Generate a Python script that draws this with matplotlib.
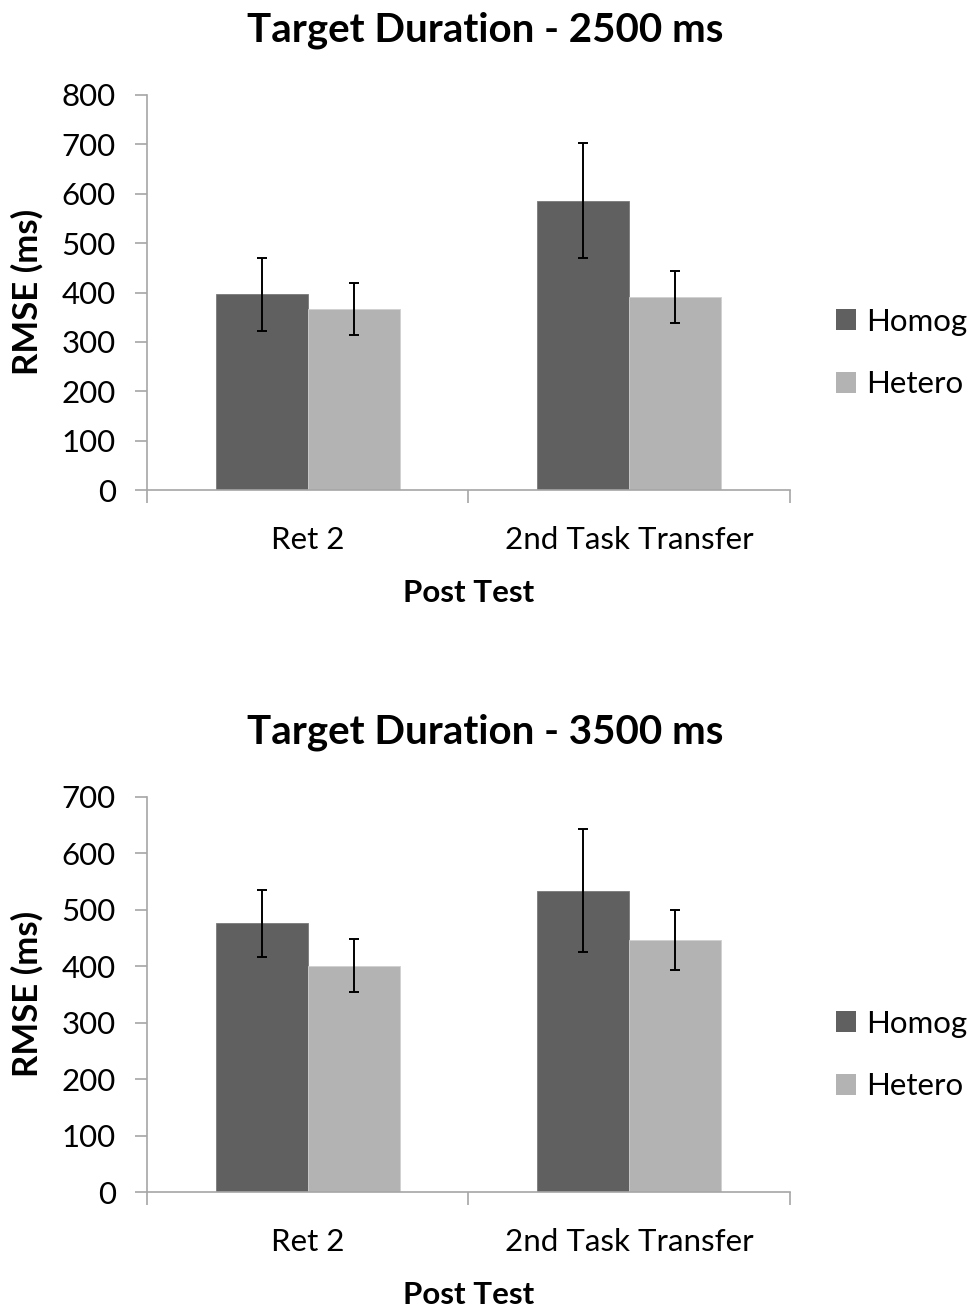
import numpy as np
import matplotlib
matplotlib.use("Agg")
import matplotlib.pyplot as plt
from matplotlib.patches import Patch

plt.rcParams["font.family"] = ["Lato", "DejaVu Sans"]

# data
categories = ["Ret 2", "2nd Task Transfer"]
groups = ["Homog", "Hetero"]

homog_2500 = [396, 586]
hetero_2500 = [366, 391]
homog_2500_err = [73, 116]
hetero_2500_err = [53, 52]

homog_3500 = [476, 534]
hetero_3500 = [401, 446]
homog_3500_err = [60, 109]
hetero_3500_err = [47, 53]

panels = [
    ("Target Duration - 2500 ms", homog_2500, hetero_2500, homog_2500_err, hetero_2500_err, 800),
    ("Target Duration - 3500 ms", homog_3500, hetero_3500, homog_3500_err, hetero_3500_err, 700),
]

DARK = "#606060"
LIGHT = "#b3b3b3"
SPINE = "#a6a6a6"
W, H = 979, 1310

fig = plt.figure(figsize=(W / 100, H / 100), dpi=100)

# pixel offset of each panel (second panel sits 702 px lower)
offsets = [0, 702]

for off, (title, homog, hetero, herr, terr, ymax) in zip(offsets, panels):
    ax = fig.add_axes([147 / W, 1 - (490 + off) / H, 643 / W, 395 / H])
    x = np.arange(len(categories))
    w = 0.286
    ekw = dict(ecolor="black", elinewidth=1.4, capsize=3.5, capthick=1.4)
    ax.bar(x - w / 2, homog, w, color=DARK, edgecolor="#7a7a7a", linewidth=0.6,
           yerr=herr, error_kw=ekw)
    ax.bar(x + w / 2, hetero, w, color=LIGHT, edgecolor="#d0d0d0", linewidth=0.6,
           yerr=terr, error_kw=ekw)

    ax.set_xlim(-0.5, len(categories) - 0.5)
    ax.set_ylim(0, ymax)
    ax.set_yticks(np.arange(0, ymax + 1, 100))
    ax.tick_params(axis="y", labelsize=22.5, length=8.5, width=1.2, color=SPINE, pad=14)

    # boundary ticks between categories, labels centred under each group
    ax.set_xticks(np.arange(-0.5, len(categories)))
    ax.set_xticklabels([])
    ax.set_xticks(x, minor=True)
    ax.set_xticklabels(categories, minor=True)
    ax.tick_params(axis="x", which="major", length=9.5, width=1.2, color=SPINE)
    ax.tick_params(axis="x", which="minor", length=0, labelsize=22.5, pad=26)

    for side in ["top", "right"]:
        ax.spines[side].set_visible(False)
    for side in ["left", "bottom"]:
        ax.spines[side].set_color(SPINE)
        ax.spines[side].set_linewidth(1.2)

    fig.text(468.5 / W, 1 - (602 + off) / H, "Post Test", ha="center", va="baseline",
             fontsize=22.5, fontweight="bold")
    fig.text(27 / W, 1 - (292 + off) / H, "RMSE (ms)", ha="center", va="center",
             rotation=90, fontsize=25, fontweight="bold")
    fig.text(485 / W, 1 - (30 + off) / H, title, ha="center", va="center",
             fontsize=29, fontweight="bold")

    handles = [Patch(facecolor=DARK), Patch(facecolor=LIGHT)]
    fig.legend(handles, groups, loc="center left",
               bbox_to_anchor=(836 / W, 1 - (353 + off) / H), frameon=False,
               borderpad=0, borderaxespad=0,
               fontsize=22.5, handlelength=0.65, handleheight=0.65, handletextpad=0.3,
               labelspacing=1.1)

fig.savefig("out.png", dpi=100)
